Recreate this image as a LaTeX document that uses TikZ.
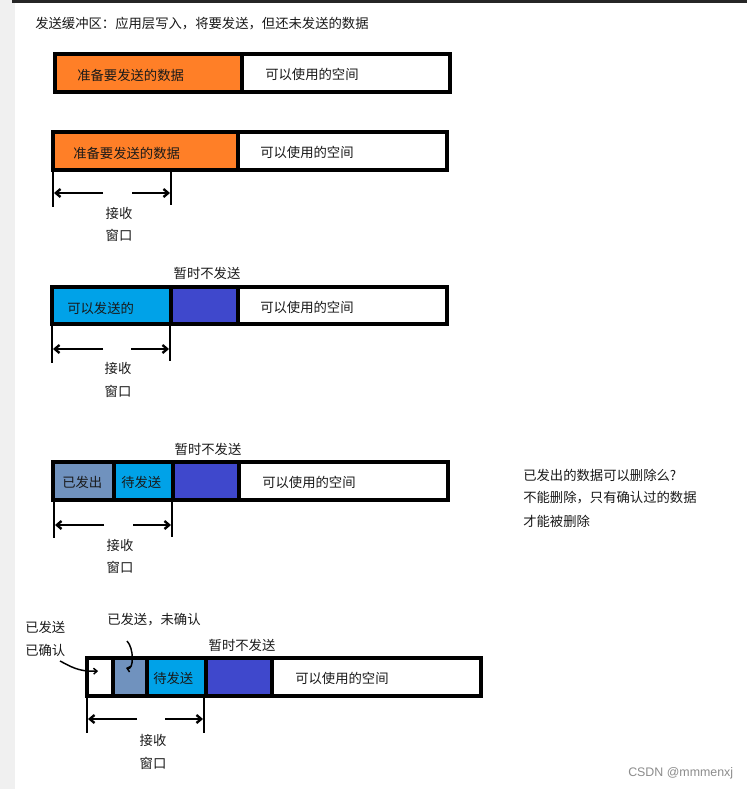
\documentclass[tikz,border=0pt]{standalone}
\usepackage{fontspec}
\setmainfont{Noto Sans CJK SC}
\newfontfamily\latinsans{Liberation Sans}
\usetikzlibrary{arrows.meta}
\definecolor{pOrange}{HTML}{FF7F27}
\definecolor{pCyan}{HTML}{00A2E8}
\definecolor{pIndigo}{HTML}{3F48CC}
\definecolor{pSlate}{HTML}{7092BE}
\definecolor{stripgray}{HTML}{F0F0F0}
\tikzset{
  cell/.style={draw=black, line width=2.3pt},
  txt/.style={anchor=west, inner sep=0pt, font=\fontsize{10pt}{12pt}\selectfont, text=black!90},
  ctxt/.style={anchor=center, inner sep=0pt, font=\fontsize{10pt}{12pt}\selectfont, text=black!90},
  winline/.style={line width=1.8pt, black},
  winarrow/.style={line width=1.8pt, black, -{Straight Barb[length=3.5pt,width=6pt]}},
  curvearrow/.style={line width=1.1pt, black, -{Straight Barb[length=2.5pt,width=4.5pt]}}
}
\begin{document}
\begin{tikzpicture}[x=0.75pt,y=-0.75pt]
\useasboundingbox (0,0) rectangle (747,789);
\fill[white] (0,0) rectangle (747,789);
\fill[stripgray] (0,0) rectangle (15,789);
\draw[line width=2.4pt, black!85] (12,1.5) -- (747,1.5);

% title
\node[txt] (title) at (35,24) {发送缓冲区：应用层写入，将要发送，但还未发送的数据};

% ---------- row 1 ----------
\draw[cell, fill=pOrange] (55,54) rectangle (242,92);
\draw[cell] (242,54) rectangle (450,92);
\node[txt] (r1a) at (77,75) {准备要发送的数据};
\node[txt] (r1b) at (265,74) {可以使用的空间};

% ---------- row 2 ----------
\draw[cell, fill=pOrange] (53,132) rectangle (238,170);
\draw[cell] (238,132) rectangle (447,170);
\node[txt] (r2a) at (73,153) {准备要发送的数据};
\node[txt] (r2b) at (260,152) {可以使用的空间};
\coordinate (w2lt) at (53,170); \coordinate (w2lb) at (53,207);
\coordinate (w2rt) at (171,170); \coordinate (w2rb) at (171,205);
\coordinate (w2a) at (54,193); \coordinate (w2b) at (103,193);
\coordinate (w2c) at (132,193); \coordinate (w2d) at (170,193);
\draw[winline] (w2lt) -- (w2lb);
\draw[winline] (w2rt) -- (w2rb);
\draw[winarrow] (w2b) -- (w2a);
\draw[winarrow] (w2c) -- (w2d);
\node[ctxt] (r2w1) at (119,213) {接收};
\node[ctxt] (r2w2) at (119,235) {窗口};

% ---------- row 3 ----------
\node[ctxt] (r3t) at (207,273) {暂时不发送};
\draw[cell, fill=pCyan] (52,287) rectangle (171,324);
\draw[cell, fill=pIndigo] (171,287) rectangle (238,324);
\draw[cell] (238,287) rectangle (447,324);
\node[txt] (r3a) at (67,308) {可以发送的};
\node[txt] (r3b) at (260,307) {可以使用的空间};
\coordinate (w3lt) at (52,324); \coordinate (w3lb) at (52,363);
\coordinate (w3rt) at (170,324); \coordinate (w3rb) at (170,361);
\coordinate (w3a) at (53,349); \coordinate (w3b) at (103,349);
\coordinate (w3c) at (131,349); \coordinate (w3d) at (169,349);
\draw[winline] (w3lt) -- (w3lb);
\draw[winline] (w3rt) -- (w3rb);
\draw[winarrow] (w3b) -- (w3a);
\draw[winarrow] (w3c) -- (w3d);
\node[ctxt] (r3w1) at (118,368) {接收};
\node[ctxt] (r3w2) at (118,391) {窗口};

% ---------- row 4 ----------
\node[ctxt] (r4t) at (208,449) {暂时不发送};
\draw[cell, fill=pSlate] (53,462) rectangle (114,500);
\draw[cell, fill=pCyan] (114,462) rectangle (173,500);
\draw[cell, fill=pIndigo] (173,462) rectangle (239,500);
\draw[cell] (239,462) rectangle (448,500);
\node[txt] (r4a) at (62,482) {已发出};
\node[txt] (r4b) at (121,482) {待发送};
\node[txt] (r4c) at (262,482) {可以使用的空间};
\coordinate (w4lt) at (54,500); \coordinate (w4lb) at (54,538);
\coordinate (w4rt) at (172,500); \coordinate (w4rb) at (172,537);
\coordinate (w4a) at (55,525); \coordinate (w4b) at (104,525);
\coordinate (w4c) at (133,525); \coordinate (w4d) at (171,525);
\draw[winline] (w4lt) -- (w4lb);
\draw[winline] (w4rt) -- (w4rb);
\draw[winarrow] (w4b) -- (w4a);
\draw[winarrow] (w4c) -- (w4d);
\node[ctxt] (r4w1) at (120,545) {接收};
\node[ctxt] (r4w2) at (120,567) {窗口};

% right note
\node[txt] (n1) at (523,475) {已发出的数据可以删除么?};
\node[txt] (n2) at (523,498) {不能删除，只有确认过的数据};
\node[txt] (n3) at (523,521) {才能被删除};

% ---------- row 5 ----------
\node[txt] (l1) at (25,627) {已发送};
\node[txt] (l2) at (25,650) {已确认};
\node[txt] (l3) at (107,620) {已发送，未确认};
\node[ctxt] (r5t) at (242,645) {暂时不发送};
\draw[cell] (87,658) rectangle (113,696);
\draw[cell, fill=pSlate] (113,658) rectangle (147,696);
\draw[cell, fill=pCyan] (147,658) rectangle (206,696);
\draw[cell, fill=pIndigo] (206,658) rectangle (272,696);
\draw[cell] (272,658) rectangle (481,696);
\node[txt] (r5a) at (153,678) {待发送};
\node[txt] (r5b) at (295,678) {可以使用的空间};
\coordinate (c1s) at (60,661); \coordinate (c1e) at (98,671);
\draw[curvearrow] (c1s) .. controls (70,666) and (78,672) .. (c1e);
\coordinate (c2s) at (127,641); \coordinate (c2e) at (126,668);
\draw[curvearrow] (c2s) .. controls (134,648) and (134,670) .. (c2e);
\coordinate (w5lt) at (87,696); \coordinate (w5lb) at (87,733);
\coordinate (w5rt) at (204,696); \coordinate (w5rb) at (204,733);
\coordinate (w5a) at (88,719); \coordinate (w5b) at (137,719);
\coordinate (w5c) at (165,719); \coordinate (w5d) at (203,719);
\draw[winline] (w5lt) -- (w5lb);
\draw[winline] (w5rt) -- (w5rb);
\draw[winarrow] (w5b) -- (w5a);
\draw[winarrow] (w5c) -- (w5d);
\node[ctxt] (r5w1) at (153,740) {接收};
\node[ctxt] (r5w2) at (153,763) {窗口};

% watermark
\node[anchor=west, inner sep=0pt, font=\latinsans\fontsize{9.3pt}{11pt}\selectfont, text=black!45] (wm) at (628,773) {CSDN @mmmenxj};
\end{tikzpicture}
\end{document}
